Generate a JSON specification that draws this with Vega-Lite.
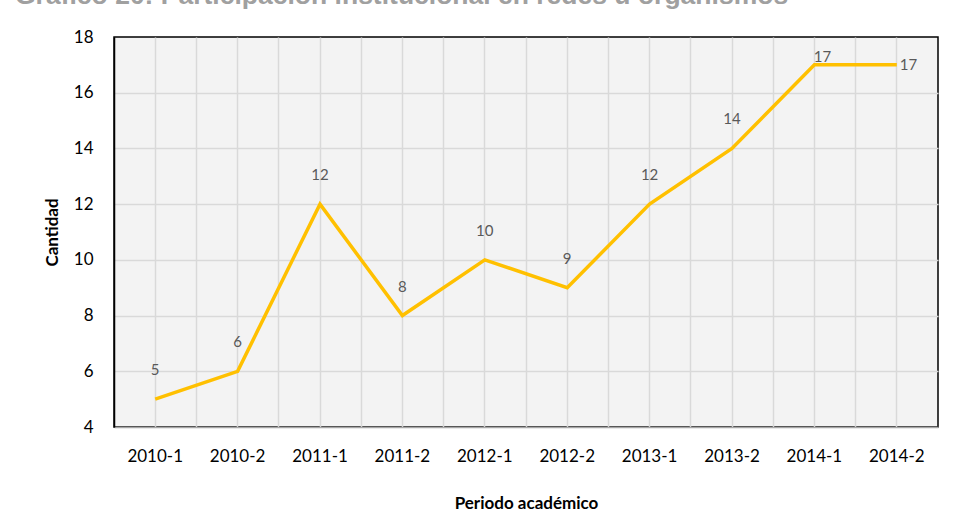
{
  "$schema": "https://vega.github.io/schema/vega-lite/v6.json",
  "width": 824,
  "height": 390,
  "autosize": {"type": "none"},
  "padding": {"left": 114, "top": 37, "right": 15, "bottom": 102},
  "background": "white",
  "title": {
    "text": "Gráfico 20: Participación institucional en redes u organismos",
    "anchor": "start",
    "frame": "group",
    "dx": -99,
    "offset": -2,
    "baseline": "alphabetic",
    "font": "Liberation Sans",
    "fontSize": 26.5,
    "fontWeight": "bold",
    "color": "#a0a0a0"
  },
  "data": {
    "values": [
      {"periodo": "2010-1", "cantidad": 5},
      {"periodo": "2010-2", "cantidad": 6},
      {"periodo": "2011-1", "cantidad": 12},
      {"periodo": "2011-2", "cantidad": 8},
      {"periodo": "2012-1", "cantidad": 10},
      {"periodo": "2012-2", "cantidad": 9},
      {"periodo": "2013-1", "cantidad": 12},
      {"periodo": "2013-2", "cantidad": 14},
      {"periodo": "2014-1", "cantidad": 17},
      {"periodo": "2014-2", "cantidad": 17}
    ]
  },
  "encoding": {
    "x": {"field": "periodo", "type": "ordinal", "sort": null, "scale": {"type": "band", "paddingInner": 0, "paddingOuter": 0}},
    "y": {"field": "cantidad", "type": "quantitative", "scale": {"domain": [4, 18], "nice": false, "zero": false}}
  },
  "layer": [
    {
      "mark": {"type": "line", "color": "#FFC000", "strokeWidth": 3.5, "strokeJoin": "miter"},
      "encoding": {
        "x": {
          "field": "periodo", "type": "ordinal", "sort": null,
          "axis": {
            "orient": "bottom",
            "title": "Periodo académico",
            "titleFont": "Lato", "titleFontSize": 17, "titleFontWeight": "bold", "titleColor": "#000",
            "titlePadding": 31,
            "labelFont": "Lato", "labelFontSize": 17, "labelColor": "#000", "labelAngle": 0,
            "labelPadding": 21,
            "ticks": false,
            "bandPosition": 0.5,
            "grid": true, "gridColor": "#d9d9d9", "gridWidth": 1.5,
            "domain": true, "domainColor": "#a6a6a6", "domainWidth": 1.5
          }
        },
        "y": {
          "field": "cantidad", "type": "quantitative",
          "axis": {
            "title": "Cantidad",
            "titleFont": "Lato", "titleFontSize": 17, "titleFontWeight": "bold", "titleColor": "#000",
            "titlePadding": 12,
            "labelFont": "Lato", "labelFontSize": 17, "labelColor": "#000",
            "labelPadding": 21,
            "values": [4, 6, 8, 10, 12, 14, 16, 18],
            "ticks": false,
            "grid": true,
            "gridColor": {"condition": {"test": "datum.value === 18 || datum.value === 4", "value": "transparent"}, "value": "#d9d9d9"},
            "gridWidth": 1.5,
            "domain": true, "domainColor": "#000", "domainWidth": 1.5
          }
        }
      }
    },
    {
      "transform": [{"filter": "datum.periodo !== '2014-2' && datum.periodo !== '2014-1'"}],
      "mark": {"type": "text", "font": "Lato", "fontSize": 15, "color": "#595959", "dy": -29, "baseline": "middle"},
      "encoding": {
        "x": {
          "field": "periodo", "type": "ordinal", "sort": null,
          "axis": {
            "orient": "top", "title": null, "labels": false, "ticks": false, "domain": false,
            "bandPosition": 0,
            "grid": true,
            "gridColor": {"condition": {"test": "datum.value === '2010-1'", "value": "transparent"}, "value": "#d9d9d9"},
            "gridWidth": 1.5
          }
        },
        "text": {"field": "cantidad", "type": "quantitative"}
      }
    },
    {
      "transform": [{"filter": "datum.periodo === '2014-1'"}],
      "mark": {"type": "text", "font": "Lato", "fontSize": 15, "color": "#595959", "dx": 8, "dy": -8, "baseline": "middle"},
      "encoding": {
        "x": {"field": "periodo", "type": "ordinal", "sort": null, "axis": null},
        "text": {"field": "cantidad", "type": "quantitative"}
      }
    },
    {
      "transform": [{"filter": "datum.periodo === '2014-2'"}],
      "mark": {"type": "text", "font": "Lato", "fontSize": 15, "color": "#595959", "dx": 3, "align": "left", "baseline": "middle"},
      "encoding": {
        "x": {"field": "periodo", "type": "ordinal", "sort": null, "axis": null},
        "text": {"field": "cantidad", "type": "quantitative"}
      }
    }
  ],
  "resolve": {"axis": {"x": "independent"}},
  "config": {
    "view": {"fill": "#f3f3f3", "stroke": "#000", "strokeWidth": 1.5}
  }
}
